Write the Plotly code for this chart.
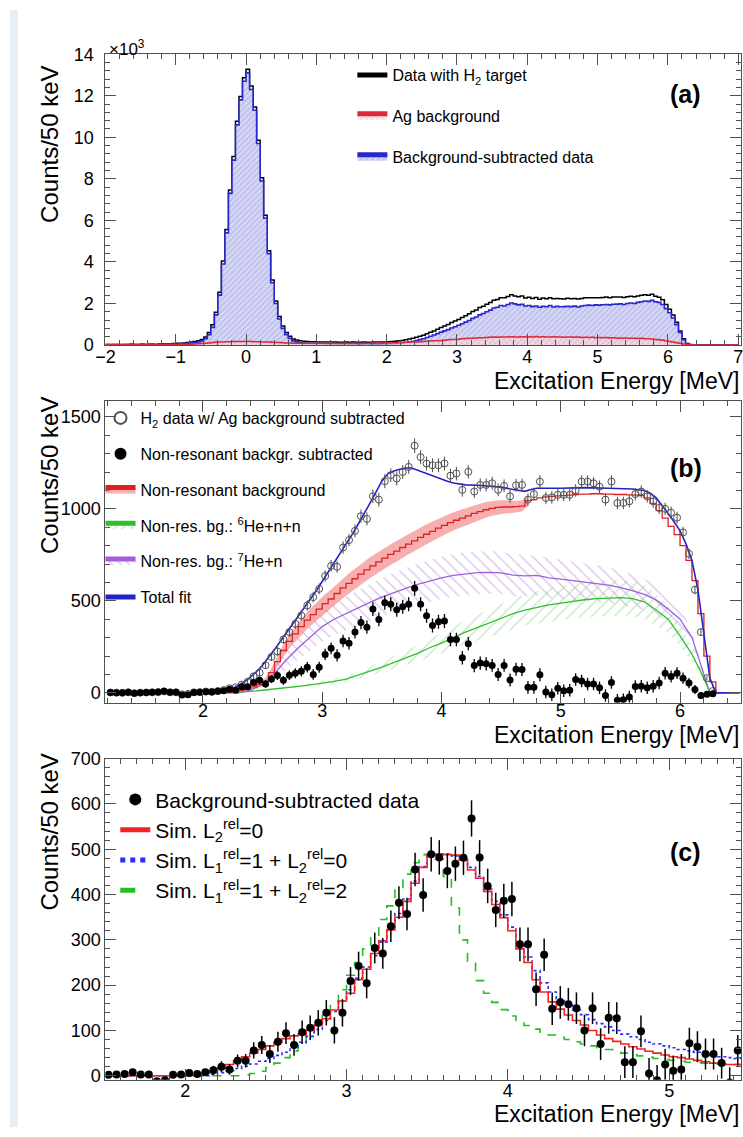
import numpy as np
import plotly.graph_objects as go

FONT = "Liberation Sans, Arial, Helvetica, sans-serif"
W, H = 743, 1137
BIN_W = 0.05

# ---------------- Panel (a): 50 keV bins from -2 to 7 MeV, counts in units of 10^3 ----------------
a_bin_start = -2.0
a_bgsub = (
    [0.02, 0.01, 0.02, 0.02, 0.01, 0.02, 0.02, 0.03, 0.02, 0.02, 0.03, 0.02, 0.03, 0.03, 0.02, 0.03, 0.04,
     0.03, 0.04, 0.05, 0.05, 0.06, 0.07, 0.08, 0.10]
    + [0.12, 0.15, 0.2, 0.3, 0.5, 0.85, 1.45, 2.4, 3.9, 5.4, 7.3, 8.9, 10.6, 11.8, 12.7, 13.1, 12.3, 11.3,
       9.7, 7.9, 6.1, 4.4, 3.0, 2.0, 1.25, 0.8, 0.5, 0.32, 0.2, 0.15, 0.11]
    + [0.09, 0.08, 0.08, 0.07, 0.07, 0.07, 0.06, 0.06, 0.06, 0.06, 0.05, 0.05, 0.06, 0.05, 0.05, 0.05, 0.04,
       0.05, 0.05, 0.04, 0.05, 0.04, 0.05, 0.05, 0.06, 0.06, 0.07, 0.08]
    + [0.10]
    + [0.12, 0.15, 0.18, 0.22, 0.26, 0.3, 0.36, 0.42, 0.48, 0.55,
       0.62, 0.68, 0.74, 0.82, 0.88, 0.95, 1.02, 1.1, 1.18, 1.28,
       1.35, 1.45, 1.52, 1.6, 1.68, 1.78, 1.82, 1.9, 1.88, 1.95,
       2.02, 1.98, 1.93, 1.96, 1.88, 1.9, 1.85, 1.88, 1.82, 1.86,
       1.84, 1.9, 1.83, 1.86, 1.84, 1.85, 1.86, 1.85, 1.87, 1.83,
       1.88, 1.9, 1.92, 1.9, 1.93, 1.92, 1.94, 1.95, 1.93, 1.96,
       1.97, 1.98, 1.95, 2.0, 2.02, 2.0, 2.05, 2.08, 2.12, 2.1,
       2.15, 2.08, 2.05, 1.95, 1.75, 1.55, 1.3, 0.98, 0.6, 0.25,
       0.05, 0.01]
    + [0, 0, 0, 0, 0, 0, 0, 0, 0, 0, 0, 0, 0]
)
a_ag = (
    [0.01, 0.01, 0.01, 0.01, 0.01, 0.01, 0.01, 0.01, 0.01, 0.01, 0.01, 0.01, 0.01, 0.01, 0.01, 0.02, 0.02,
     0.02, 0.02, 0.02, 0.03, 0.03, 0.03, 0.04, 0.04]
    + [0.05, 0.06, 0.07, 0.08, 0.1, 0.12, 0.13, 0.14, 0.15, 0.16, 0.16, 0.17, 0.17, 0.17, 0.17, 0.17, 0.17,
       0.16, 0.16, 0.15, 0.15, 0.14, 0.13, 0.12, 0.12, 0.11, 0.1, 0.1, 0.09, 0.09, 0.09]
    + [0.09, 0.09, 0.08, 0.09, 0.08, 0.08, 0.09, 0.08, 0.08, 0.09, 0.08, 0.08, 0.09, 0.08, 0.09, 0.08, 0.09,
       0.09, 0.08, 0.09, 0.09, 0.1, 0.09, 0.1, 0.1, 0.11, 0.11, 0.12]
    + [0.12]
    + [0.13, 0.14, 0.14, 0.15, 0.16, 0.17, 0.18, 0.19, 0.2, 0.21,
       0.22, 0.23, 0.25, 0.26, 0.27, 0.28, 0.3, 0.31, 0.32, 0.33,
       0.34, 0.35, 0.35, 0.36, 0.37, 0.38, 0.37, 0.38, 0.39, 0.38,
       0.4, 0.38, 0.39, 0.4, 0.38, 0.4, 0.39, 0.41, 0.38, 0.4,
       0.39, 0.38, 0.4, 0.38, 0.39, 0.37, 0.39, 0.38, 0.37, 0.38,
       0.36, 0.37, 0.36, 0.37, 0.35, 0.36, 0.35, 0.36, 0.34, 0.35,
       0.34, 0.33, 0.34, 0.32, 0.33, 0.32, 0.31, 0.32, 0.3, 0.3,
       0.29, 0.27, 0.25, 0.23, 0.2, 0.17, 0.14, 0.11, 0.08, 0.05,
       0.02, 0.01]
    + [0, 0, 0, 0, 0, 0, 0, 0, 0, 0, 0, 0, 0]
)
assert len(a_bgsub) == 180 and len(a_ag) == 180
a_data = [s + b for s, b in zip(a_bgsub, a_ag)]   # data with H2 target = subtracted + Ag background

# ---------------- Panel (b) ----------------
b_pts_center0 = 1.225          # first bin centre of the data points
b_black = (
    [2, 1, 0, 3, -2, 1, 2, 3, 4, 8, 3, 3, -12, -10, 2, 3, 6, 4, 8]
    + [12, 20, 14, 33, 33, 56, 68, 48, 75, 94, 68, 96, 106, 117, 139, 100, 139,
       209, 242, 204, 282, 270, 330, 382, 357, 455, 399, 489, 482, 452, 468, 481,
       568, 482, 419, 366, 386, 390, 290, 290, 191, 267, 148, 162, 158, 149, 100,
       149, 70, 128, 127, 30, 30, 98, 5, -10, 25, 11, 14, 72, 64, 48, 48, 28, -15, 56]
    + [-40, -38, -22, 35, 36, 28, 36, 53, 107, 89, 107, 80, 53, 18, -15, -8, -5]
)
b_err = (
    [5, 5, 5, 5, 5, 5, 5, 5, 5, 5, 5, 5, 5, 5, 5, 5, 5, 5, 5]
    + [10, 12, 12, 14, 15]
    + [18, 20, 20, 22, 24, 24, 26]
    + [27, 28, 28, 29, 30, 31, 32]
    + [33, 34, 34, 35, 36, 36, 37, 37]
    + [38, 38, 38, 38, 38, 40, 38, 38, 38, 38, 38, 37]
    + [37, 37, 36, 36, 36, 36, 35, 35, 35, 35, 35, 35]
    + [35, 35, 35, 34, 34, 34, 34, 34, 34, 34, 34, 34, 34, 34, 34]
    + [34, 34, 34, 34, 34, 34, 34, 34, 34, 33, 32, 30, 28, 24, 18, 12, 8]
)
b_open = (
    [2, 1, 0, 3, -2, 1, 2, 3, 4, 8, 3, 3, -8, -6, 3, 4, 7, 6, 10]
    + [15, 25, 30, 45, 60, 90, 110, 150, 195, 225, 290, 330, 375, 420, 475, 520, 565,
       635, 690, 685, 790, 830, 880, 960, 945, 1068, 1050, 1150, 1183, 1165, 1200, 1228,
       1343, 1281, 1246, 1237, 1237, 1246, 1180, 1192, 1103, 1201, 1094, 1130, 1130, 1139, 1103,
       1125, 1068, 1128, 1130, 1050, 1080, 1148, 1059, 1062, 1076, 1076, 1076, 1100, 1148, 1148,
       1139, 1120, 1050, 1148]
    + [1032, 1032, 1041, 1080, 1094, 1068, 1040, 1005, 1000, 979, 952, 872, 756, 560, 330, 80, 10]
)
assert len(b_black) == len(b_err) == len(b_open) == 102

b_nonres_start = 2.2           # left edge of first bin
b_nonres = [3, 8, 14, 22, 32, 45, 62, 110, 170, 230, 280, 320, 360, 395, 425, 455, 485, 510, 540, 570,
            595, 620, 645, 668, 690, 712, 732, 752, 770, 790, 808, 826, 845, 862, 878, 895, 910, 925,
            938, 950, 962, 975, 985, 995, 1002, 1008, 1010, 1010, 1012, 1015, 1045, 1050, 1060, 1065,
            1068, 1070, 1072, 1075, 1078, 1080, 1080, 1082, 1082, 1080, 1080, 1078, 1078, 1076, 1075,
            1072, 1060, 1030, 990, 950, 905, 860, 800, 720, 610, 430, 200, 60, 0]
b_nonres_band = [0, 2, 4, 8, 12, 16, 20, 25, 30, 34, 38, 41, 44, 46, 48, 50, 51, 52, 53, 54, 55, 55, 56,
                 56, 56, 56, 56, 56, 56, 55, 55, 55, 54, 54, 53, 52, 51, 50, 49, 48, 46, 45, 43, 42, 40,
                 38, 36, 34, 32, 30, 28]
assert len(b_nonres) == 83 and len(b_nonres_band) == 51

b_model_x = [2.2, 2.3, 2.4, 2.5, 2.6, 2.7, 2.8, 2.9, 3.0, 3.1, 3.2, 3.3, 3.4, 3.5, 3.6, 3.7, 3.8, 3.9,
             4.0, 4.1, 4.2, 4.3, 4.4, 4.5, 4.6, 4.7, 4.8, 4.9, 5.0, 5.1, 5.2, 5.3, 5.4, 5.5, 5.6, 5.7,
             5.8, 5.9, 6.0, 6.1, 6.2, 6.25]
b_he6 = [0, 3, 8, 14, 20, 28, 35, 43, 52, 62, 75, 95, 118, 140, 165, 190, 215, 245, 270, 300, 330, 355,
         380, 405, 430, 450, 465, 478, 488, 498, 506, 512, 516, 518, 512, 495, 450, 400, 310, 210, 80, 0]
b_he6_band = [0, 1, 2, 3, 4, 6, 8, 10, 12, 14, 17, 21, 25, 30, 35, 40, 45, 50, 55, 60, 65, 70, 74, 78,
              82, 85, 88, 90, 92, 94, 95, 96, 97, 97, 95, 92, 85, 75, 60, 40, 15, 0]
b_he7 = [0, 0, 15, 45, 105, 180, 245, 300, 360, 400, 432, 462, 492, 520, 545, 568, 590, 608, 625, 638,
         647, 653, 655, 652, 640, 636, 638, 625, 618, 610, 603, 595, 585, 572, 556, 535, 505, 455, 400,
         300, 100, 0]
b_he7_band = [0, 0, 10, 20, 35, 50, 62, 72, 80, 86, 92, 96, 100, 104, 107, 110, 112, 114, 115, 116, 116,
              116, 116, 115, 114, 112, 110, 108, 106, 104, 102, 100, 97, 94, 90, 85, 78, 70, 60, 45, 20, 0]
assert len(b_model_x) == len(b_he6) == len(b_he6_band) == len(b_he7) == len(b_he7_band) == 42

b_fit_x = [1.2, 1.5, 2.0, 2.1, 2.15, 2.2, 2.25, 2.3, 2.35, 2.4, 2.45, 2.5, 2.55, 2.6, 2.65, 2.7, 2.75,
           2.8, 2.85, 2.9, 2.95, 3.0, 3.05, 3.1, 3.15, 3.2, 3.25, 3.3, 3.35, 3.4, 3.45, 3.5, 3.55, 3.6,
           3.65, 3.7, 3.75, 3.8, 3.85, 3.9, 3.95, 4.0, 4.05, 4.1, 4.15, 4.2, 4.3, 4.4, 4.5, 4.6, 4.65,
           4.7, 4.75, 4.8, 5.0, 5.2, 5.4, 5.6, 5.7, 5.75, 5.8, 5.85, 5.9, 5.95, 6.0, 6.05, 6.1, 6.15,
           6.2, 6.25, 6.3, 6.5]
b_fit_y = [0, 0, 0, 2, 5, 12, 25, 40, 60, 85, 115, 150, 190, 235, 280, 325, 370, 415, 460, 505, 555,
           605, 655, 705, 755, 805, 860, 915, 970, 1030, 1090, 1150, 1190, 1205, 1215, 1222, 1222, 1210,
           1195, 1182, 1170, 1160, 1150, 1140, 1135, 1130, 1128, 1125, 1118, 1105, 1100, 1095, 1105,
           1112, 1112, 1115, 1112, 1108, 1100, 1085, 1060, 1020, 975, 930, 880, 810, 720, 560, 330, 80,
           0, 0]
assert len(b_fit_x) == len(b_fit_y)

# ---------------- Panel (c): simulations, 50 keV bins from 1.5 MeV ----------------
c_bin_start = 1.5
c_sim_l2_0 = ([0] * 12 +
              [5, 10, 17, 25, 33, 42, 50, 58, 66, 74, 82, 88, 92, 101, 112, 126, 145, 165, 182, 212,
               235, 270, 298, 322, 350, 385, 425, 460, 487, 490, 488, 487, 476, 454, 436, 407, 378,
               349, 320, 280, 250, 212, 185, 163, 147, 134, 122, 112, 100, 90, 82, 76, 70, 64, 59, 54,
               50, 46, 42, 40, 37, 34, 31, 28, 26, 25, 25])
c_sim_l1_l2_0 = ([0] * 13 +
                 [3, 7, 11, 16, 21, 26, 32, 38, 45, 52, 62, 74, 87, 102, 122, 142, 165, 190, 215, 240,
                  265, 295, 325, 358, 390, 430, 462, 485, 490, 490, 485, 478, 460, 440, 412, 385, 355,
                  328, 292, 262, 232, 205, 185, 170, 156, 145, 135, 124, 115, 108, 100, 92, 86, 80, 74,
                  70, 66, 62, 58, 55, 52, 48, 45, 42, 40, 38])
c_sim_l1_l2_2 = ([0] * 17 +
                 [2, 5, 10, 18, 28, 40, 55, 72, 90, 110, 133, 160, 190, 222, 250, 280, 310, 345, 375, 410,
                  445, 470, 488, 490, 478, 440, 370, 300, 250, 210, 182, 162, 146, 132, 120, 111, 103, 96,
                  90, 85, 80, 75, 70, 66, 62, 58, 54, 50, 47, 44, 41, 38, 36, 34, 32, 30, 29, 28, 27, 26,
                  25, 25])
assert len(c_sim_l2_0) == len(c_sim_l1_l2_0) == len(c_sim_l1_l2_2) == 79


def step_xy(start, vals):
    x = start + BIN_W * np.arange(len(vals) + 1)
    y = list(vals) + [vals[-1]]
    return x, y


fig = go.Figure()

# ---------- (a) ----------
ax, ay = step_xy(a_bin_start, a_data)
fig.add_trace(go.Scatter(x=ax, y=ay, mode="lines", line=dict(color="black", width=1.5, shape="hv"),
                         name="Data with H<sub>2</sub> target", legend="legend", legendgroup="a1",
                         legendrank=1, xaxis="x", yaxis="y"))
ax, ay = step_xy(a_bin_start, a_bgsub)
fig.add_trace(go.Scatter(x=ax, y=ay, mode="lines", line=dict(color="#2727cf", width=1.6, shape="hv"),
                         fill="tozeroy",
                         fillpattern=dict(shape="/", fgcolor="#8c8cd0", bgcolor="#d6d6f6", size=4, solidity=0.25),
                         name="Background-subtracted data", legend="legend", legendgroup="a3",
                         legendrank=3, xaxis="x", yaxis="y"))
ax, ay = step_xy(a_bin_start, a_ag)
fig.add_trace(go.Scatter(x=ax, y=ay, mode="lines", line=dict(color="#dd2a3a", width=1.5, shape="hv"),
                         fill="tozeroy",
                         fillpattern=dict(shape="x", fgcolor="#f29a9a", bgcolor="rgba(255,220,220,0.55)",
                                          size=4, solidity=0.3),
                         name="Ag background", legend="legend", legendgroup="a2",
                         legendrank=2, xaxis="x", yaxis="y"))

# ---------- (b) ----------
bx = np.array(b_model_x)
he7 = np.array(b_he7)
he7b = np.array(b_he7_band)
he6 = np.array(b_he6)
he6b = np.array(b_he6_band)
PURPLE_H = "#b283d6"
GREEN_H = "#7dd27d"
fig.add_trace(go.Scatter(x=bx, y=he7 - he7b, mode="lines", line=dict(width=0), showlegend=False,
                         hoverinfo="skip", xaxis="x2", yaxis="y2"))
fig.add_trace(go.Scatter(x=bx, y=he7 + he7b, mode="lines", line=dict(width=0), fill="tonexty",
                         fillcolor="rgba(0,0,0,0)",
                         fillpattern=dict(shape="\\", fgcolor=PURPLE_H, bgcolor="rgba(0,0,0,0)", size=8,
                                          solidity=0.16),
                         showlegend=False, hoverinfo="skip", xaxis="x2", yaxis="y2"))
fig.add_trace(go.Scatter(x=bx, y=he6 - he6b, mode="lines", line=dict(width=0), showlegend=False,
                         hoverinfo="skip", xaxis="x2", yaxis="y2"))
fig.add_trace(go.Scatter(x=bx, y=he6 + he6b, mode="lines", line=dict(width=0), fill="tonexty",
                         fillcolor="rgba(0,0,0,0)",
                         fillpattern=dict(shape="/", fgcolor=GREEN_H, bgcolor="rgba(0,0,0,0)", size=8,
                                          solidity=0.16),
                         showlegend=False, hoverinfo="skip", xaxis="x2", yaxis="y2"))
nb = len(b_nonres_band)
nr_c = b_nonres_start + BIN_W / 2 + BIN_W * np.arange(nb)
nr_v = np.array(b_nonres[:nb])
band = np.array(b_nonres_band)
fig.add_trace(go.Scatter(x=nr_c, y=nr_v - band, mode="lines", line=dict(width=0), showlegend=False,
                         hoverinfo="skip", xaxis="x2", yaxis="y2"))
fig.add_trace(go.Scatter(x=nr_c, y=nr_v + band, mode="lines", line=dict(width=0), fill="tonexty",
                         fillcolor="rgba(242,120,120,0.6)", showlegend=False, hoverinfo="skip",
                         xaxis="x2", yaxis="y2"))
fig.add_trace(go.Scatter(x=bx, y=he7, mode="lines", line=dict(color="#a35ce0", width=1.3),
                         showlegend=False, xaxis="x2", yaxis="y2"))
fig.add_trace(go.Scatter(x=bx, y=he6, mode="lines", line=dict(color="#2fbf2f", width=1.3),
                         showlegend=False, xaxis="x2", yaxis="y2"))
sx, sy = step_xy(b_nonres_start, b_nonres)
fig.add_trace(go.Scatter(x=sx, y=sy, mode="lines", line=dict(color="#e02020", width=1.3, shape="hv"),
                         showlegend=False, xaxis="x2", yaxis="y2"))
fig.add_trace(go.Scatter(x=b_fit_x, y=b_fit_y, mode="lines", line=dict(color="#2323c8", width=1.6),
                         name="Total fit", legend="legend2", legendgroup="b6", legendrank=6,
                         xaxis="x2", yaxis="y2"))
pts_x = b_pts_center0 + BIN_W * np.arange(len(b_black))
fig.add_trace(go.Scatter(x=pts_x, y=b_open, mode="markers",
                         marker=dict(symbol="circle-open", size=7, color="#505050", line=dict(width=1)),
                         error_y=dict(type="data", array=b_err, width=0, thickness=1, color="#505050"),
                         name="H<sub>2</sub> data w/ Ag background subtracted", legend="legend2",
                         legendgroup="b1", legendrank=1, xaxis="x2", yaxis="y2"))
fig.add_trace(go.Scatter(x=pts_x, y=b_black, mode="markers",
                         marker=dict(symbol="circle", size=7, color="black"),
                         error_y=dict(type="data", array=b_err, width=0, thickness=1.3, color="black"),
                         name="Non-resonant backgr. subtracted", legend="legend2",
                         legendgroup="b2", legendrank=2, xaxis="x2", yaxis="y2"))
# legend-only entries for bands
fig.add_trace(go.Scatter(x=[None], y=[None], mode="lines", line=dict(color="#e02020", width=1.5),
                         fill="toself", fillcolor="rgba(242,120,120,0.6)",
                         name="Non-resonant background", legend="legend2", legendgroup="b3",
                         legendrank=3, xaxis="x2", yaxis="y2"))
fig.add_trace(go.Scatter(x=[None], y=[None], mode="lines", line=dict(color="#2fbf2f", width=1.3),
                         fill="toself", fillcolor="rgba(0,0,0,0)",
                         fillpattern=dict(shape="/", fgcolor=GREEN_H, bgcolor="rgba(0,0,0,0)", size=6,
                                          solidity=0.2),
                         name="Non-res. bg.: <sup>6</sup>He+n+n", legend="legend2", legendgroup="b4",
                         legendrank=4, xaxis="x2", yaxis="y2"))
fig.add_trace(go.Scatter(x=[None], y=[None], mode="lines", line=dict(color="#a35ce0", width=1.3),
                         fill="toself", fillcolor="rgba(0,0,0,0)",
                         fillpattern=dict(shape="\\", fgcolor=PURPLE_H, bgcolor="rgba(0,0,0,0)", size=6,
                                          solidity=0.2),
                         name="Non-res. bg.: <sup>7</sup>He+n", legend="legend2", legendgroup="b5",
                         legendrank=5, xaxis="x2", yaxis="y2"))

# ---------- (c) ----------
cx, cy = step_xy(c_bin_start, c_sim_l1_l2_2)
fig.add_trace(go.Scatter(x=cx, y=cy, mode="lines", line=dict(color="#22c022", width=1.6, dash="dash", shape="hv"),
                         name="Sim. L<sub>1</sub><sup>rel</sup>=1 + L<sub>2</sub><sup>rel</sup>=2",
                         legend="legend3", legendgroup="c4", legendrank=4, xaxis="x3", yaxis="y3"))
cx, cy = step_xy(c_bin_start, c_sim_l1_l2_0)
fig.add_trace(go.Scatter(x=cx, y=cy, mode="lines", line=dict(color="#2a2aff", width=1.6, dash="dot", shape="hv"),
                         name="Sim. L<sub>1</sub><sup>rel</sup>=1 + L<sub>2</sub><sup>rel</sup>=0",
                         legend="legend3", legendgroup="c3", legendrank=3, xaxis="x3", yaxis="y3"))
cx, cy = step_xy(c_bin_start, c_sim_l2_0)
fig.add_trace(go.Scatter(x=cx, y=cy, mode="lines", line=dict(color="#f02424", width=1.6, shape="hv"),
                         name="Sim. L<sub>2</sub><sup>rel</sup>=0",
                         legend="legend3", legendgroup="c2", legendrank=2, xaxis="x3", yaxis="y3"))
fig.add_trace(go.Scatter(x=pts_x, y=b_black, mode="markers",
                         marker=dict(symbol="circle", size=8, color="black"),
                         error_y=dict(type="data", array=b_err, width=0, thickness=1.5, color="black"),
                         name="Background-subtracted data", legend="legend3", legendgroup="c1",
                         legendrank=1, xaxis="x3", yaxis="y3"))

# ---------- layout ----------
XL = 97 / W
def ydom(top_px, bot_px):
    return [1 - bot_px / H, 1 - top_px / H]

LINE_C = "#505050"
def axis(**kw):
    d = dict(showgrid=False, zeroline=False, showline=True, linecolor=LINE_C, linewidth=1, mirror="ticks",
             ticks="inside", ticklen=11, tickwidth=1, tickcolor=LINE_C,
             tickfont=dict(family=FONT, size=18, color="black"))
    d.update(kw)
    return d

def minor(dt, t0=0):
    return dict(dtick=dt, tick0=t0, ticks="inside", ticklen=5, tickcolor=LINE_C, tickwidth=1)

leg_common = dict(bgcolor="rgba(0,0,0,0)", borderwidth=0, xanchor="left", yanchor="top",
                  traceorder="grouped", itemsizing="constant")

annotations = []
def ann(text, x, y, size, xanchor="center", yanchor="middle", angle=0, bold=False):
    annotations.append(dict(text=f"<b>{text}</b>" if bold else text, x=x / W, y=1 - y / H, xref="paper",
                            yref="paper", showarrow=False, xanchor=xanchor, yanchor=yanchor,
                            textangle=angle, font=dict(family=FONT, size=size, color="black")))

for top in (55, 392, 755):
    ann("Counts/50 keV", 40, top, 24, yanchor="top", angle=-90)
for yc in (378, 738, 1124):
    ann("Excitation Energy [MeV]", 743, yc, 23, xanchor="right")
ann("(a)", 687, 85, 25, bold=True)
ann("(b)", 687, 466, 25, bold=True)
ann("(c)", 687, 857, 25, bold=True)
ann("×10<sup>3</sup>", 99, 39, 17, xanchor="left")

fig.update_layout(
    width=W, height=H, margin=dict(l=0, r=0, t=0, b=0),
    paper_bgcolor="white", plot_bgcolor="white",
    font=dict(family=FONT, color="black"),
    xaxis=axis(domain=[XL, 1], anchor="y", range=[-2, 7.04], dtick=1, tick0=0, minor=minor(0.2),
               ticklabelstandoff=-5, ticklabeloverflow="allow"),
    yaxis=axis(domain=ydom(45, 341), anchor="x", range=[0, 14], dtick=2, tick0=0, minor=minor(0.4),
               ticklabelstandoff=7),
    xaxis2=axis(domain=[XL, 1], anchor="y2", range=[1.183, 6.511], dtick=1, tick0=0, minor=minor(0.2),
                ticklabelstandoff=-8),
    yaxis2=axis(domain=ydom(398, 705), anchor="x2", range=[-53, 1586], dtick=500, tick0=0, minor=minor(100)),
    xaxis3=axis(domain=[XL, 1], anchor="y3", range=[1.506, 5.445], dtick=1, tick0=0, minor=minor(0.1),
                ticklabelstandoff=-5),
    yaxis3=axis(domain=ydom(762, 1089), anchor="x3", range=[-9, 700], dtick=100, tick0=0, minor=minor(20)),
    legend=dict(leg_common, x=348 / W, y=1 - 49 / H, font=dict(family=FONT, size=16), tracegroupgap=17),
    legend2=dict(leg_common, x=92 / W, y=1 - 398 / H, font=dict(family=FONT, size=16), tracegroupgap=12),
    legend3=dict(leg_common, x=107 / W, y=1 - 783 / H, font=dict(family=FONT, size=21), tracegroupgap=0),
    annotations=annotations,
    shapes=[dict(type="rect", xref="paper", yref="paper", x0=0, x1=8 / W, y0=0, y1=1, line=dict(width=0),
                 fillcolor="#e8eef6", layer="below")],
    showlegend=True,
)

fig.write_html("out.html")
